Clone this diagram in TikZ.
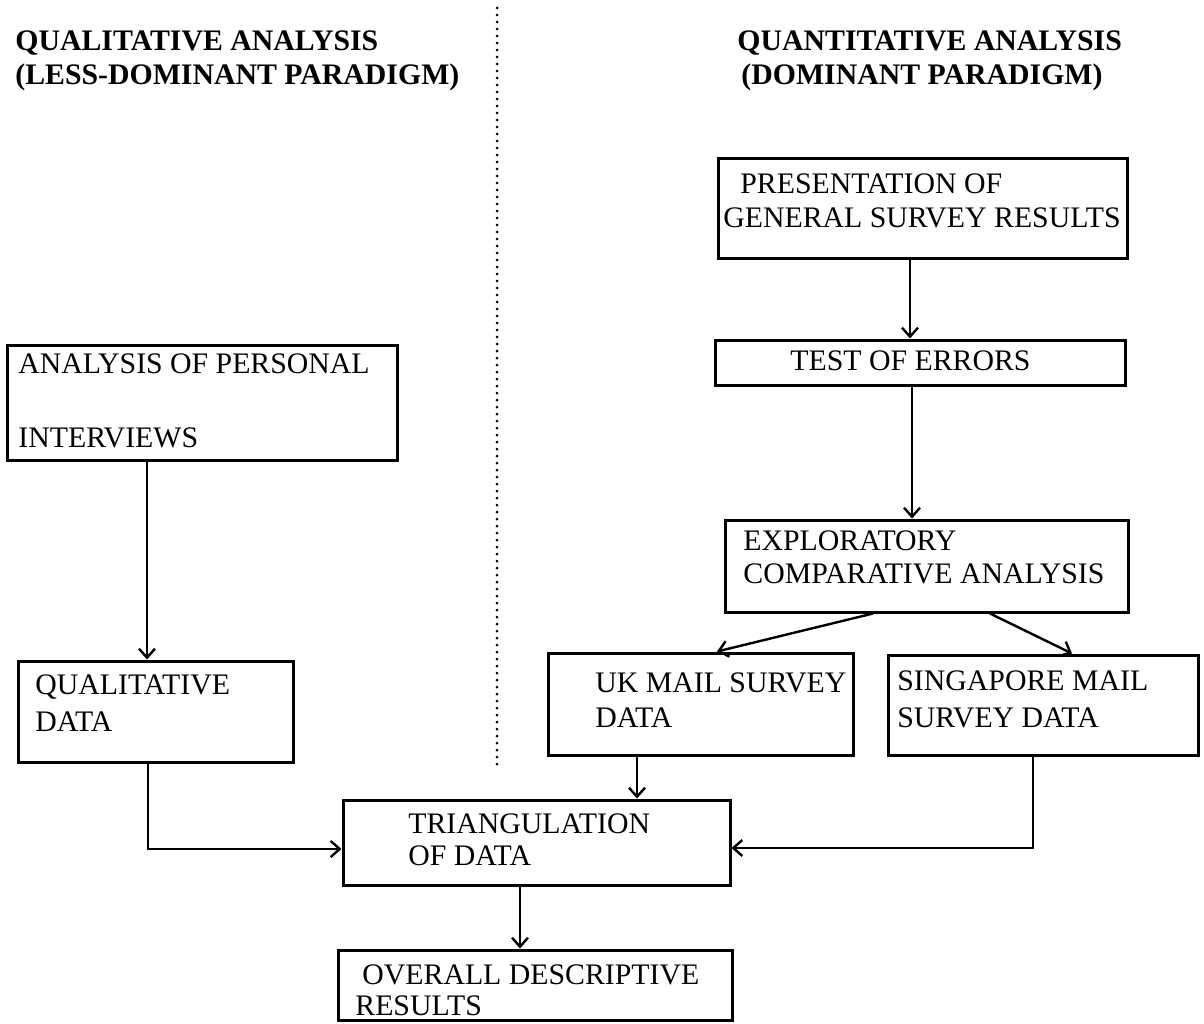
\documentclass[tikz,border=0pt]{standalone}
\usepackage{fontspec}
\setmainfont{Liberation Serif}
\usetikzlibrary{arrows.meta}
\begin{document}
\begin{tikzpicture}[x=0.5pt,y=-0.5pt,
  box/.style={draw, line width=1.5pt, inner sep=0pt, rectangle},
  lbl/.style={anchor=base west, inner sep=0pt, font=\fontsize{14.9pt}{17pt}\selectfont},
  head/.style={anchor=base west, inner sep=0pt, font=\fontsize{14.9pt}{17pt}\selectfont\bfseries},
  arr/.style={line width=1.2pt, -{Straight Barb[length=4.5pt,width=8pt,line width=1.2pt]}},
  divider/.style={line width=1.5pt, line cap=round, dash pattern=on 0pt off 3.5pt}
]
\useasboundingbox (0,0) rectangle (1204,1023);

% column headings and the divider between them
\node[head] (hqual1) at (15,50) {QUALITATIVE ANALYSIS};
\node[head] (hqual2) at (15,84) {(LESS-DOMINANT PARADIGM)};
\node[head] (hquan1) at (737,50) {QUANTITATIVE ANALYSIS};
\node[head] (hquan2) at (741,84) {(DOMINANT PARADIGM)};
\coordinate (divtop) at (497,8);
\coordinate (divbot) at (497,767);
\draw[divider] (divtop) -- (divbot);

% boxes
\node[box, minimum width=204.5pt, minimum height=50pt]   (pres) at (922.5,208) {};
\node[box, minimum width=205pt,   minimum height=22.5pt] (test) at (920,362.5) {};
\node[box, minimum width=201.5pt, minimum height=46pt]   (expl) at (926.5,566) {};
\node[box, minimum width=152.5pt, minimum height=51pt]   (uk)   at (700.5,704) {};
\node[box, minimum width=155pt,   minimum height=50pt]   (sing) at (1043,705) {};
\node[box, minimum width=195pt,   minimum height=57.5pt] (anal) at (202,402.5) {};
\node[box, minimum width=137.5pt, minimum height=50.5pt] (qual) at (155.5,711.5) {};
\node[box, minimum width=193.5pt, minimum height=42.5pt] (tri)  at (536.5,842.5) {};
\node[box, minimum width=197pt,   minimum height=35pt]   (over) at (535,985) {};

% box texts
\node[lbl] (presA) at (740,193) {PRESENTATION OF};
\node[lbl] (presB) at (723,227) {GENERAL SURVEY RESULTS};
\node[lbl] (testA) at (790,370) {TEST OF ERRORS};
\node[lbl] (explA) at (743,550) {EXPLORATORY};
\node[lbl] (explB) at (743,583) {COMPARATIVE ANALYSIS};
\node[lbl] (ukA)   at (595,692) {UK MAIL SURVEY};
\node[lbl] (ukB)   at (595,727) {DATA};
\node[lbl] (singA) at (897,690) {SINGAPORE MAIL};
\node[lbl] (singB) at (897,727) {SURVEY DATA};
\node[lbl] (analA) at (18,373) {ANALYSIS OF PERSONAL};
\node[lbl] (analB) at (18,447) {INTERVIEWS};
\node[lbl] (qualA) at (35,694) {QUALITATIVE};
\node[lbl] (qualB) at (35,731) {DATA};
\node[lbl] (triA)  at (408,833) {TRIANGULATION};
\node[lbl] (triB)  at (408,865) {OF DATA};
\node[lbl] (overA) at (362,984) {OVERALL DESCRIPTIVE};
\node[lbl] (overB) at (355,1015) {RESULTS};

% connectors
\draw[arr] (pres.south -| 910,0) -- (test.north -| 910,0);
\draw[arr] (test.south -| 912,0) -- (expl.north -| 912,0);
\draw[arr] (expl.south -| 873,0) -- (uk.north -| 717,0);
\draw[arr] (expl.south -| 990,0) -- (sing.north -| 1072,0);
\draw[arr] (anal.south -| 147,0) -- (qual.north -| 147,0);
\draw[arr] (qual.south -| 148,0) |- (tri.west |- 0,849);
\draw[arr] (uk.south -| 637,0) -- (tri.north -| 637,0);
\draw[arr] (sing.south -| 1033,0) |- (tri.east |- 0,848);
\draw[arr] (tri.south -| 520,0) -- (over.north -| 520,0);
\end{tikzpicture}
\end{document}
